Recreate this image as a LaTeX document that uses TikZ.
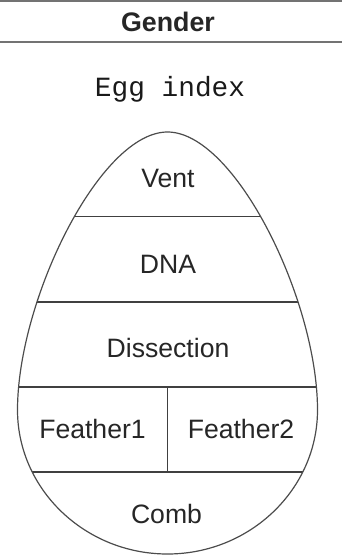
\documentclass[tikz,border=0pt]{standalone}
\usepackage{fontspec}
\setmainfont{Liberation Sans}
\newfontfamily\eggmono{Liberation Mono}
\usetikzlibrary{positioning}

\begin{document}
\begin{tikzpicture}[x=0.5pt,y=-0.5pt,
    rule line/.style={draw=black!55,line width=1pt},
    part line/.style={draw=black!75,line width=0.8pt},
    part node/.style={anchor=base,inner sep=0pt,text=black!85,font=\fontsize{13.3}{16}\selectfont}]
  \useasboundingbox (0,0) rectangle (342,555);

  % header
  \draw[rule line] (0,1) -- (342,1);
  \draw[rule line] (0,42.5) -- (342,42.5);
  \node[part node,font=\fontsize{13.4}{16}\selectfont\bfseries,text=black!85] (gender) at (168,31.7) {Gender};
  \node[part node,font=\eggmono\fontsize{13.9}{16}\selectfont,text=black!90] (title) at (170,96.7) {Egg index};

  % the egg
  \def\eggpath{(17.5,410) .. controls (17.5,489) and (84.7,554) .. (167.5,554)
     .. controls (250.3,554) and (317.5,489) .. (317.5,410)
     .. controls (317.5,300) and (235,132) .. (167.5,132)
     .. controls (100,132) and (17.5,300) .. (17.5,410) -- cycle}
  \begin{scope}
    \clip \eggpath;
    \foreach \y in {216.7,301.7,386.7,471.7}
      \draw[part line] (0,\y) -- (342,\y);
    \draw[part line] (167.3,386.7) -- (167.3,471.7);
  \end{scope}
  \draw[draw=black!70,line width=0.6pt] \eggpath;

  \node[part node] (vent) at (168,187.3) {Vent};
  \node[part node] (dna) at (168,273) {DNA};
  \node[part node] (dissection) at (168,357.3) {Dissection};
  \node[part node] (feather1) at (92.5,438.3) {Feather1};
  \node[part node] (feather2) at (241,438.3) {Feather2};
  \node[part node] (comb) at (166.5,523) {Comb};
\end{tikzpicture}
\end{document}
